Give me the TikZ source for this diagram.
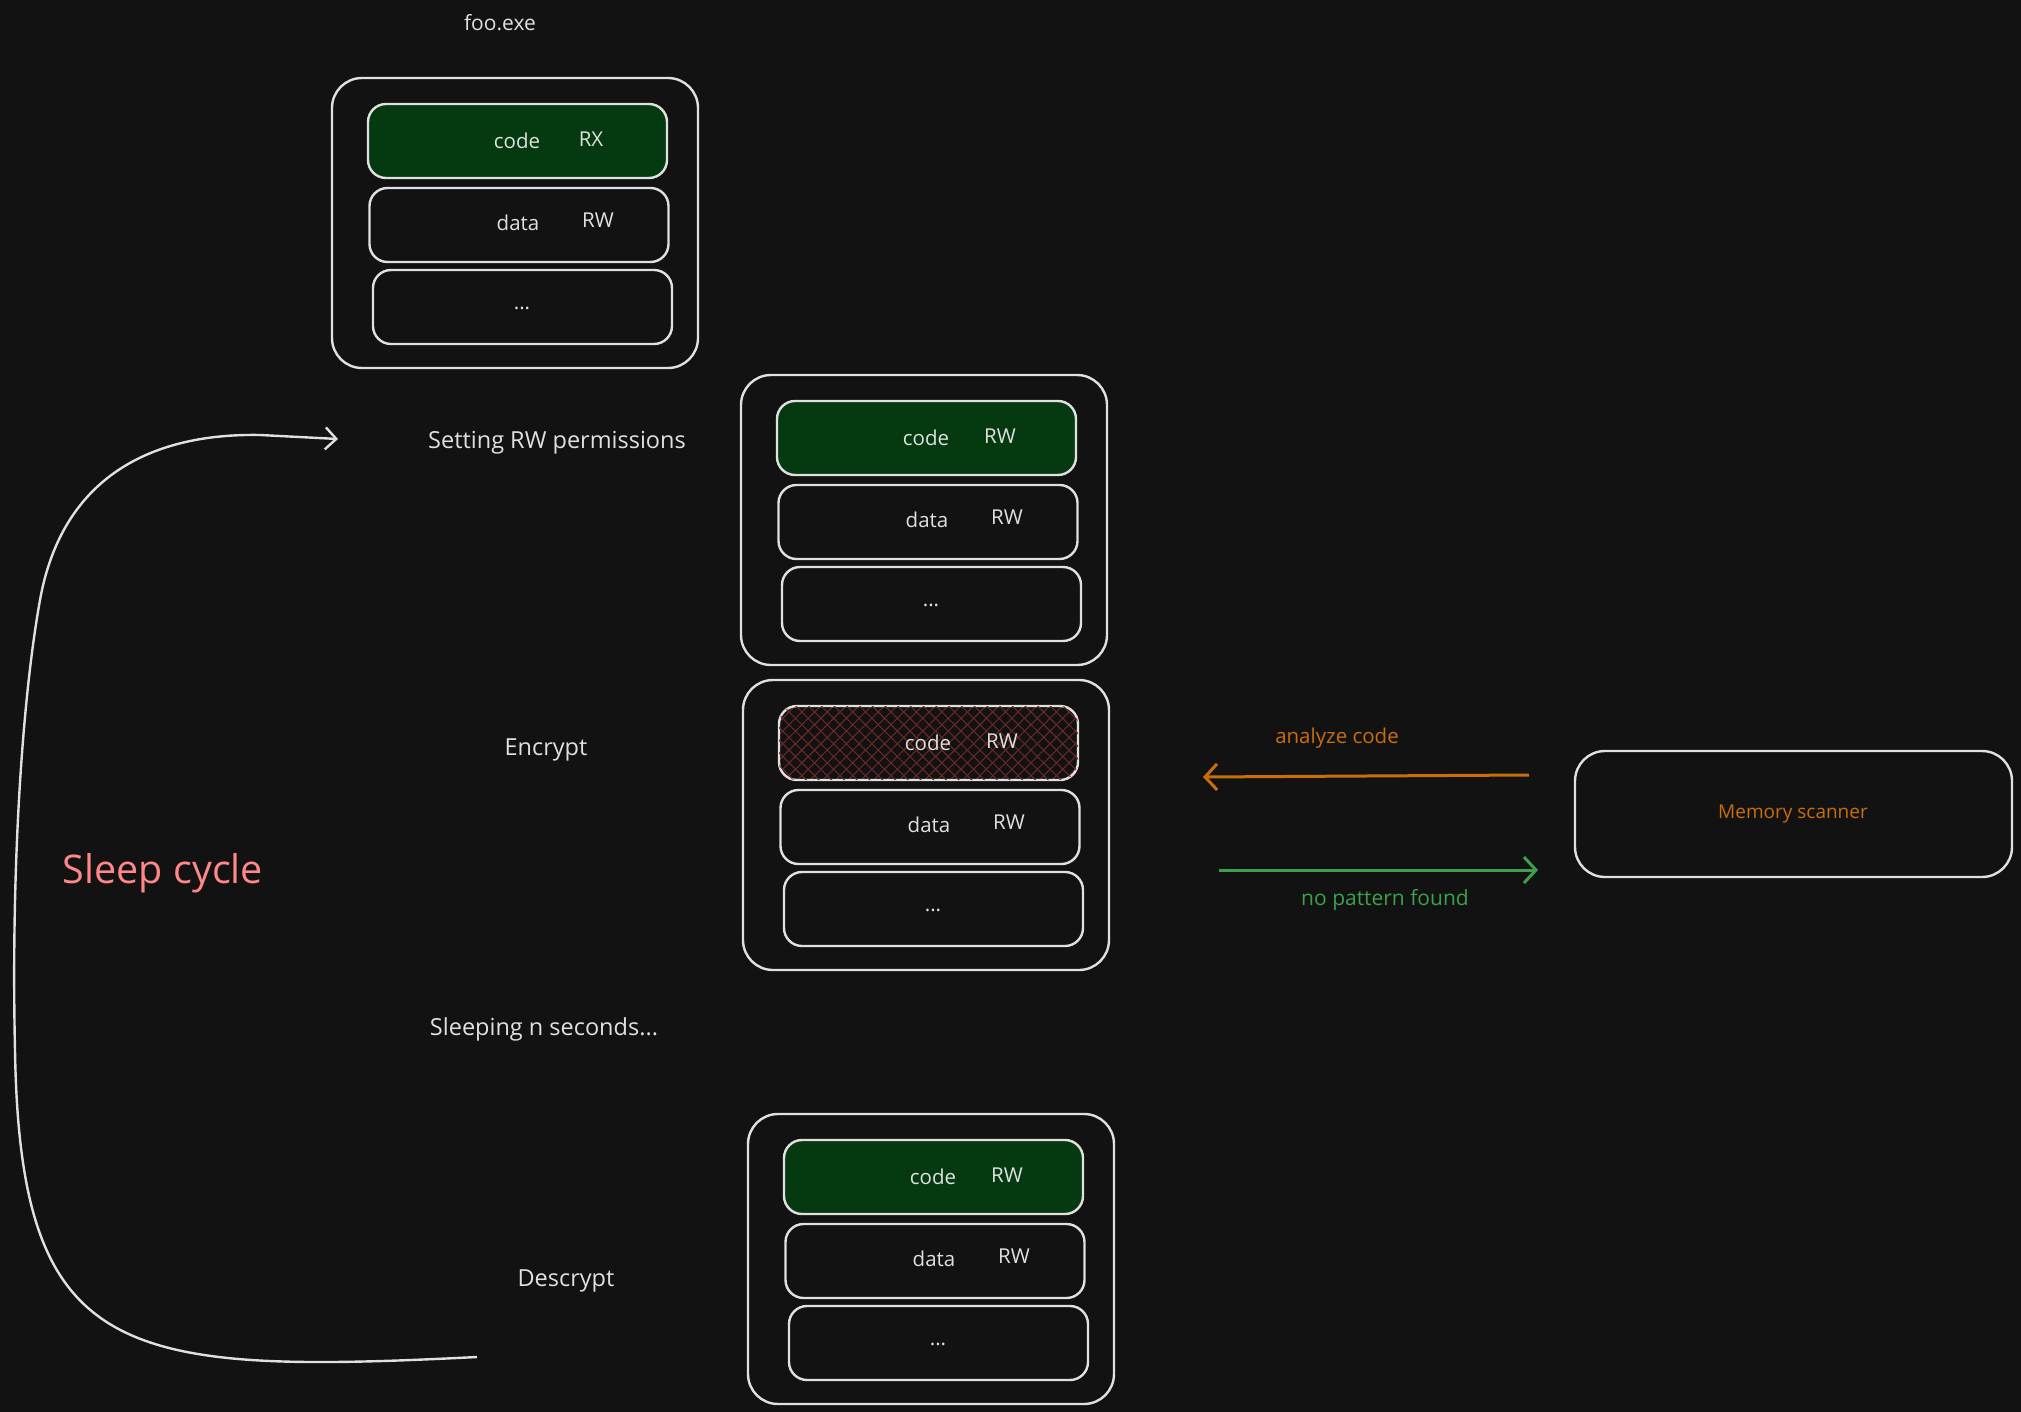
\documentclass[tikz,border=0pt]{standalone}
\usepackage{fontspec}
\setmainfont{Open Sans}
\usetikzlibrary{arrows.meta,patterns.meta}
\definecolor{bg}{RGB}{18,18,18}
\definecolor{stroke}{RGB}{224,224,224}
\definecolor{codegreen}{RGB}{5,58,17}
\definecolor{hatch}{RGB}{105,40,40}
\definecolor{orng}{RGB}{200,110,14}
\definecolor{grn}{RGB}{62,160,76}
\definecolor{salmon}{RGB}{255,135,135}
\tikzset{
  outerbox/.style={draw=stroke, line width=2.4pt, rounded corners=30pt, minimum width=366pt, minimum height=290pt, inner sep=0pt},
  innerbox/.style={draw=stroke, line width=2.4pt, rounded corners=18pt, minimum width=299pt, minimum height=74pt, inner sep=0pt},
  greenfill/.style={fill=codegreen},
  hatched/.style={
    preaction={pattern={Lines[angle=45,distance=9pt,line width=1.1pt]}, pattern color=hatch},
    postaction={pattern={Lines[angle=-45,distance=9pt,line width=1.1pt]}, pattern color=hatch}},
  lbl/.style={text=stroke, font=\fontsize{20.5}{24}\selectfont, inner sep=0pt},
  biglbl/.style={text=stroke, font=\fontsize{23.5}{28}\selectfont, inner sep=0pt},
  conn/.style={line width=3pt, -{Straight Barb[length=12pt,width=26pt,line width=3pt]}},
}
\newcommand\memblock[5]{%
\begin{scope}[shift={(#2,#3)}]
\node[outerbox] (#1-outer) at (515,223) {};
\node[innerbox,#4] (#1-code) at (517.5,141) {};
\node[innerbox] (#1-data) at (519,225) {};
\node[innerbox] (#1-more) at (522.5,307) {};
\node[lbl] (#1-codet) at (517,141) {code};
\node[lbl] (#1-codep) at (591,139) {#5};
\node[lbl] (#1-datat) at (518,223) {data};
\node[lbl] (#1-datap) at (598,220) {RW};
\node[lbl] (#1-moret) at (522,308) {...};
\end{scope}}
\begin{document}
\begin{tikzpicture}[x=1pt,y=-1pt]
\fill[bg] (0,0) rectangle (2021,1412);
\useasboundingbox (0,0) rectangle (2021,1412);

\node[text=stroke, font=\fontsize{21}{25}\selectfont, inner sep=0pt] (foo) at (500,23) {foo.exe};
\memblock{b1}{0}{0}{greenfill}{RX}
\memblock{b2}{409}{297}{greenfill}{RW}
\memblock{b3}{411}{602}{hatched}{RW}
\memblock{b4}{416}{1036}{greenfill}{RW}

\node[biglbl] (set) at (557,443) {Setting RW permissions};
\node[biglbl] (enc) at (546,750) {Encrypt};
\node[biglbl] (slp) at (544,1029) {Sleeping n seconds...};
\node[biglbl] (dec) at (566,1281) {Descrypt};

\node[text=salmon, font=\fontsize{39.5}{44}\selectfont, inner sep=0pt] (cycle) at (163,873) {Sleep cycle};

\coordinate (cstart) at (477,1357);
\coordinate (cend) at (338,439);
\draw[draw=stroke, line width=2.4pt, -{Straight Barb[length=11pt,width=22pt,line width=2.4pt]}]
  (cstart) .. controls (120,1375) and (20,1360) .. (15,1050)
  .. controls (11,870) and (22,700) .. (40,600)
  .. controls (62,478) and (150,433) .. (260,435) -- (cend);

\node[draw=stroke, line width=2.4pt, rounded corners=30pt, minimum width=437pt, minimum height=126pt, inner sep=0pt] (scanner) at (1793.5,814) {};
\node[text=orng, font=\fontsize{19}{22}\selectfont, inner sep=0pt] (scant) at (1793,814) {Memory scanner};

\coordinate (oa) at (1529,775);
\coordinate (ob) at (1203,777);
\draw[conn, draw=orng] (oa) -- (ob);
\node[text=orng, font=\fontsize{20.5}{24}\selectfont, inner sep=0pt] (ana) at (1337,738) {analyze code};

\coordinate (ga) at (1219,870);
\coordinate (gb) at (1538,870);
\draw[conn, draw=grn] (ga) -- (gb);
\node[text=grn, font=\fontsize{21}{25}\selectfont, inner sep=0pt] (nop) at (1385,900) {no pattern found};
\end{tikzpicture}
\end{document}
